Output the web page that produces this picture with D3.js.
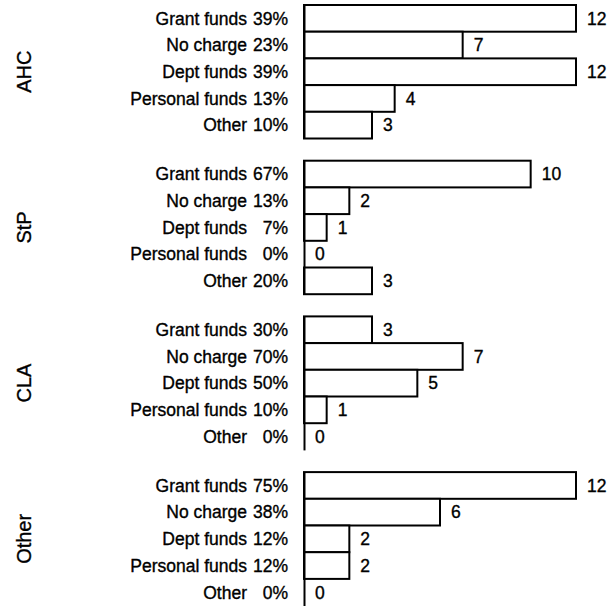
<!DOCTYPE html>
<html>
<head>
<meta charset="utf-8">
<script src="https://cdn.jsdelivr.net/npm/d3@7"></script>
<style>
  html, body { margin: 0; padding: 0; background: #fff; }
  svg { display: block; }
  text { font-family: "Liberation Sans", Arial, sans-serif; fill: #000; stroke: #000; stroke-width: 0.35px; }
</style>
</head>
<body>
<div id="chart"></div>
<script>
// Funding source by group: counts of respondents and share within each group
const groups = ["AHC", "StP", "CLA", "Other"];
const categories = ["Grant funds", "No charge", "Dept funds", "Personal funds", "Other"];

const countsAHC   = [12, 7, 12, 4, 3];
const countsStP   = [10, 2, 1, 0, 3];
const countsCLA   = [3, 7, 5, 1, 0];
const countsOther = [12, 6, 2, 2, 0];

const pctAHC   = [39, 23, 39, 13, 10];
const pctStP   = [67, 13, 7, 0, 20];
const pctCLA   = [30, 70, 50, 10, 0];
const pctOther = [75, 38, 12, 12, 0];

const xDomainMax = 12;

const counts = [countsAHC, countsStP, countsCLA, countsOther];
const pcts = [pctAHC, pctStP, pctCLA, pctOther];

const W = 610, H = 606;
const svg = d3.select("#chart").append("svg")
  .attr("width", W).attr("height", H);

// Horizontal value scale shared by all panels
const x = d3.scaleLinear().domain([0, xDomainMax]).range([304, 576]);

// Vertical placement of the four panels
const panelH = 133.5;
const panel = d3.scaleBand().domain(groups).range([5, 5 + 3 * 155.7 + panelH])
  .paddingInner((155.7 - panelH) / 155.7).paddingOuter(0);

// Rows within a panel
const row = d3.scaleBand().domain(categories).range([0, panel.bandwidth()]).padding(0);

const fontSize = 17.5;

groups.forEach((g, gi) => {
  const gEl = svg.append("g").attr("transform", `translate(0,${panel(g)})`);
  const data = categories.map((c, i) => ({ cat: c, n: counts[gi][i], pct: pcts[gi][i] }));

  // Group title, rotated
  gEl.append("text")
    .attr("transform", `translate(31,${panel.bandwidth() / 2}) rotate(-90)`)
    .attr("text-anchor", "middle")
    .style("font-size", "20px")
    .text(g);

  // Category names
  gEl.selectAll("text.cat").data(data).join("text")
    .attr("class", "cat")
    .attr("x", 247)
    .attr("y", d => row(d.cat) + row.bandwidth() / 2)
    .attr("dy", "0.36em")
    .attr("text-anchor", "end")
    .style("font-size", fontSize + "px")
    .text(d => d.cat);

  // Percentages
  gEl.selectAll("text.pct").data(data).join("text")
    .attr("class", "pct")
    .attr("x", 288)
    .attr("y", d => row(d.cat) + row.bandwidth() / 2)
    .attr("dy", "0.36em")
    .attr("text-anchor", "end")
    .style("font-size", fontSize + "px")
    .text(d => d.pct + "%");

  // Bars
  gEl.selectAll("rect.bar").data(data.filter(d => d.n > 0)).join("rect")
    .attr("class", "bar")
    .attr("x", x(0))
    .attr("y", d => row(d.cat))
    .attr("width", d => x(d.n) - x(0))
    .attr("height", row.bandwidth())
    .attr("fill", "#fff")
    .attr("stroke", "#000")
    .attr("stroke-width", 2);

  // Value labels
  gEl.selectAll("text.val").data(data).join("text")
    .attr("class", "val")
    .attr("x", d => x(d.n) + 11)
    .attr("y", d => row(d.cat) + row.bandwidth() / 2)
    .attr("dy", "0.36em")
    .style("font-size", fontSize + "px")
    .text(d => d.n);

  // Baseline axis
  const axis = d3.axisLeft(row).tickSize(0).tickFormat("");
  const ax = gEl.append("g").attr("transform", `translate(${x(0)},0)`).call(axis);
  ax.select(".domain").attr("stroke", "#000").attr("stroke-width", 2);
});
</script>
</body>
</html>
